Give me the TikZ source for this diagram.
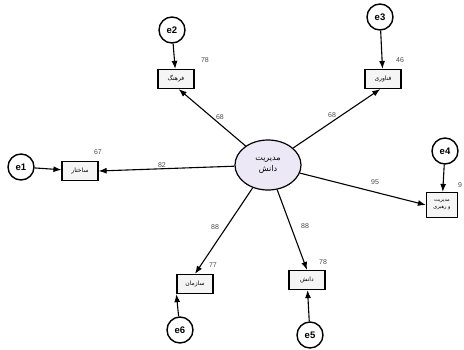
\documentclass[tikz,border=0pt]{standalone}
\usepackage{fontspec}
\setmainfont{Liberation Sans}
\newfontfamily\farsi[Script=Arabic]{DejaVu Sans}
\TeXXeTstate=1
\usetikzlibrary{shapes.geometric,arrows.meta}
\definecolor{lavender}{RGB}{236,232,246}
\tikzset{
  obs/.style={draw,line width=1.2pt,fill=black!4,minimum width=36pt,minimum height=19pt,inner sep=1pt,font=\farsi\fontsize{6}{7}\selectfont},
  err/.style={circle,draw,line width=1.4pt,minimum size=26pt,inner sep=0pt,font=\bfseries\fontsize{9.5}{10}\selectfont},
  link/.style={-{Latex[length=8pt,width=6pt]},line width=1.1pt},
  est/.style={font=\fontsize{7}{8}\selectfont,text=black!70,inner sep=0pt}
}
\begin{document}
\begin{tikzpicture}[x=1pt,y=-1pt]
\useasboundingbox (0,0) rectangle (464,349);
\node[ellipse,draw,line width=1.2pt,fill=lavender,minimum width=66pt,minimum height=50pt,inner sep=0pt,align=center,font=\farsi\fontsize{8}{11}\selectfont] (km) at (268,165) {\beginR مدیریت\endR\\\beginR دانش\endR};
\node[obs] (s1) at (80,171) {\beginR ساختار\endR};
\node[obs] (s2) at (176,79) {\beginR فرهنگ\endR};
\node[obs] (s3) at (383,79) {\beginR فناوری\endR};
\node[obs,minimum width=31pt,minimum height=25pt,align=center,font=\farsi\fontsize{5}{7}\selectfont] (s4) at (442,205) {\beginR مدیریت\endR\\\beginR و رهبری\endR};
\node[obs] (s5) at (307,280) {\beginR دانش\endR};
\node[obs] (s6) at (195,284) {\beginR سازمان\endR};
\foreach \n/\x/\y in {1/21/167,2/172/30,3/380/17,4/445/151,5/310/335,6/180/330}
  \node[err] (e\n) at (\x,\y) {e\n};
\draw[link] (km) -- (s1.east);
\draw[link] (km) -- (s2.-75);
\draw[link] (km) -- (s3.-105);
\draw[link] (km) -- (s4.west);
\draw[link] (km) -- (s5.north);
\draw[link] (km) -- (s6.north);
\foreach \n in {1,...,5} \draw[link] (e\n) -- (s\n);
\draw[link] (e6) -- (s6.south west);
\foreach \n/\x/\y/\t in {a/205/60/78,b/400/60/46,c/98/152/67,d/460/185/9,e/213/265/77,f/323/262/78,
  g/220/117/68,h/332/115/68,i/162/165/82,j/215/227/88,k/305/226/88,l/375/182/95}
  \node[est] (lab\n) at (\x,\y) {\t};
\end{tikzpicture}
\end{document}
